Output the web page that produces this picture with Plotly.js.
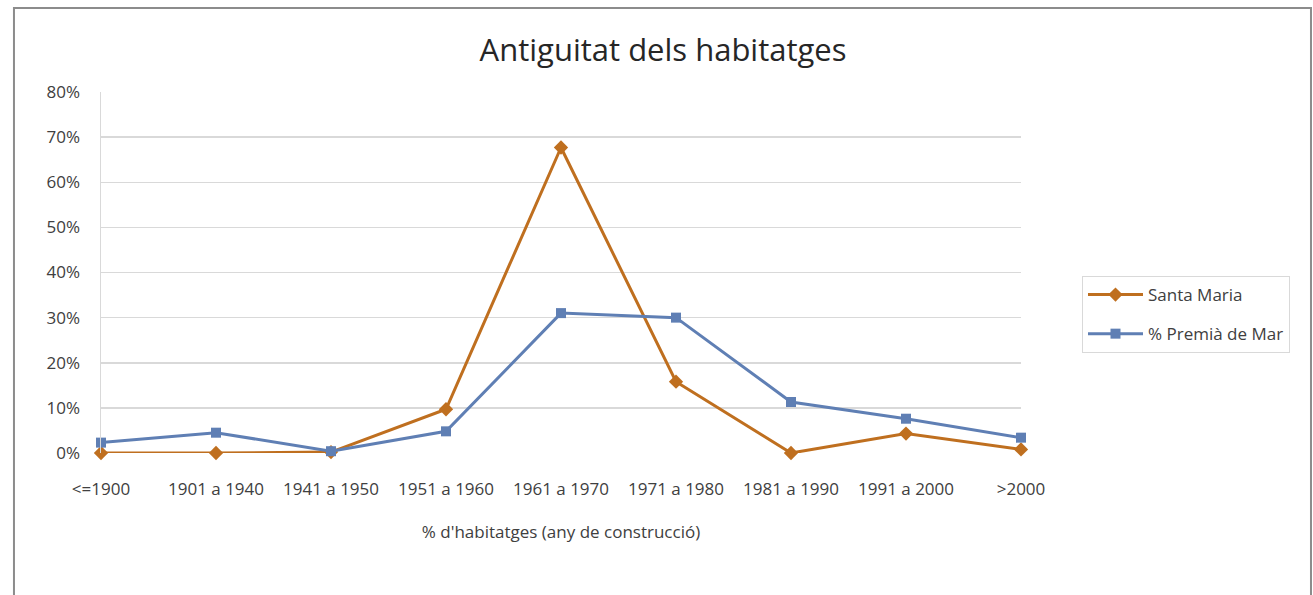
<!DOCTYPE html>
<html>
<head>
<meta charset="utf-8">
<script src="https://cdn.plot.ly/plotly-3.0.1.min.js"></script>
<style>html,body{margin:0;padding:0;background:#fff;}#chart{width:1313px;height:595px;}</style>
</head>
<body>
<div id="chart"></div>
<script>
const categories = ["<=1900", "1901 a 1940", "1941 a 1950", "1951 a 1960", "1961 a 1970", "1971 a 1980", "1981 a 1990", "1991 a 2000", ">2000"];
const santaMaria = [0.000, 0.000, 0.002, 0.097, 0.677, 0.158, 0.000, 0.043, 0.008];
const premiaDeMar = [0.023, 0.045, 0.004, 0.048, 0.310, 0.300, 0.113, 0.076, 0.034];
const yTickVals = [0, 0.1, 0.2, 0.3, 0.4, 0.5, 0.6, 0.7, 0.8];
const yTickText = ["0%", "10%", "20%", "30%", "40%", "50%", "60%", "70%", "80%"];

const FONT = "Open Sans, sans-serif";
const traces = [
  {
    x: categories, y: santaMaria, name: "Santa Maria", type: "scatter", mode: "lines+markers",
    legendgroup: "a",
    line: {color: "#BF6F1F", width: 3},
    marker: {symbol: "diamond", size: 11, color: "#BF6F1F"},
    cliponaxis: false
  },
  {
    x: categories, y: premiaDeMar, name: "% Premià de Mar", type: "scatter", mode: "lines+markers",
    legendgroup: "b",
    line: {color: "#5F7FB4", width: 3},
    marker: {symbol: "square", size: 10, color: "#5F7FB4"},
    cliponaxis: false
  }
];

const layout = {
  width: 1313, height: 595,
  margin: {l: 101, r: 292, t: 92, b: 142},
  paper_bgcolor: "#fff", plot_bgcolor: "#fff",
  font: {family: FONT, color: "#404040", size: 17},
  title: {text: "Antiguitat dels habitatges", font: {family: FONT, size: 31, color: "#262626"}, x: 0.505, xanchor: "center", y: 0.916, yanchor: "middle"},
  xaxis: {
    type: "category", range: [0, 8], showgrid: false, zeroline: false, showline: false,
    ticks: "", ticklabelstandoff: 24, tickfont: {size: 17, color: "#404040"},
    title: {text: "% d'habitatges (any de construcció)", font: {size: 17, color: "#404040"}, standoff: 27},
    fixedrange: true
  },
  yaxis: {
    range: [0, 0.8], tickvals: yTickVals, ticktext: yTickText,
    showgrid: true, gridcolor: "#D9D9D9", gridwidth: 1.5, zeroline: false,
    showline: true, linecolor: "#D9D9D9", linewidth: 1.5,
    ticks: "", ticklabelstandoff: 16, tickfont: {size: 17, color: "#404040"},
    fixedrange: true
  },
  legend: {
    x: 1.0663, y: 0.4903, xanchor: "left", yanchor: "top",
    bordercolor: "#D9D9D9", borderwidth: 1, bgcolor: "#fff",
    font: {size: 17, color: "#404040"}, traceorder: "grouped", tracegroupgap: 14, itemwidth: 55
  },
  showlegend: true,
  shapes: [
    {type: "rect", xref: "paper", yref: "paper", x0: -0.0946, x1: 1.3152, y0: -0.45, y1: 1.2327,
     line: {color: "#8C8C8C", width: 2}, fillcolor: "rgba(0,0,0,0)", layer: "below"}
  ]
};

Plotly.newPlot("chart", traces, layout, {displayModeBar: false, staticPlot: true});
</script>
</body>
</html>
